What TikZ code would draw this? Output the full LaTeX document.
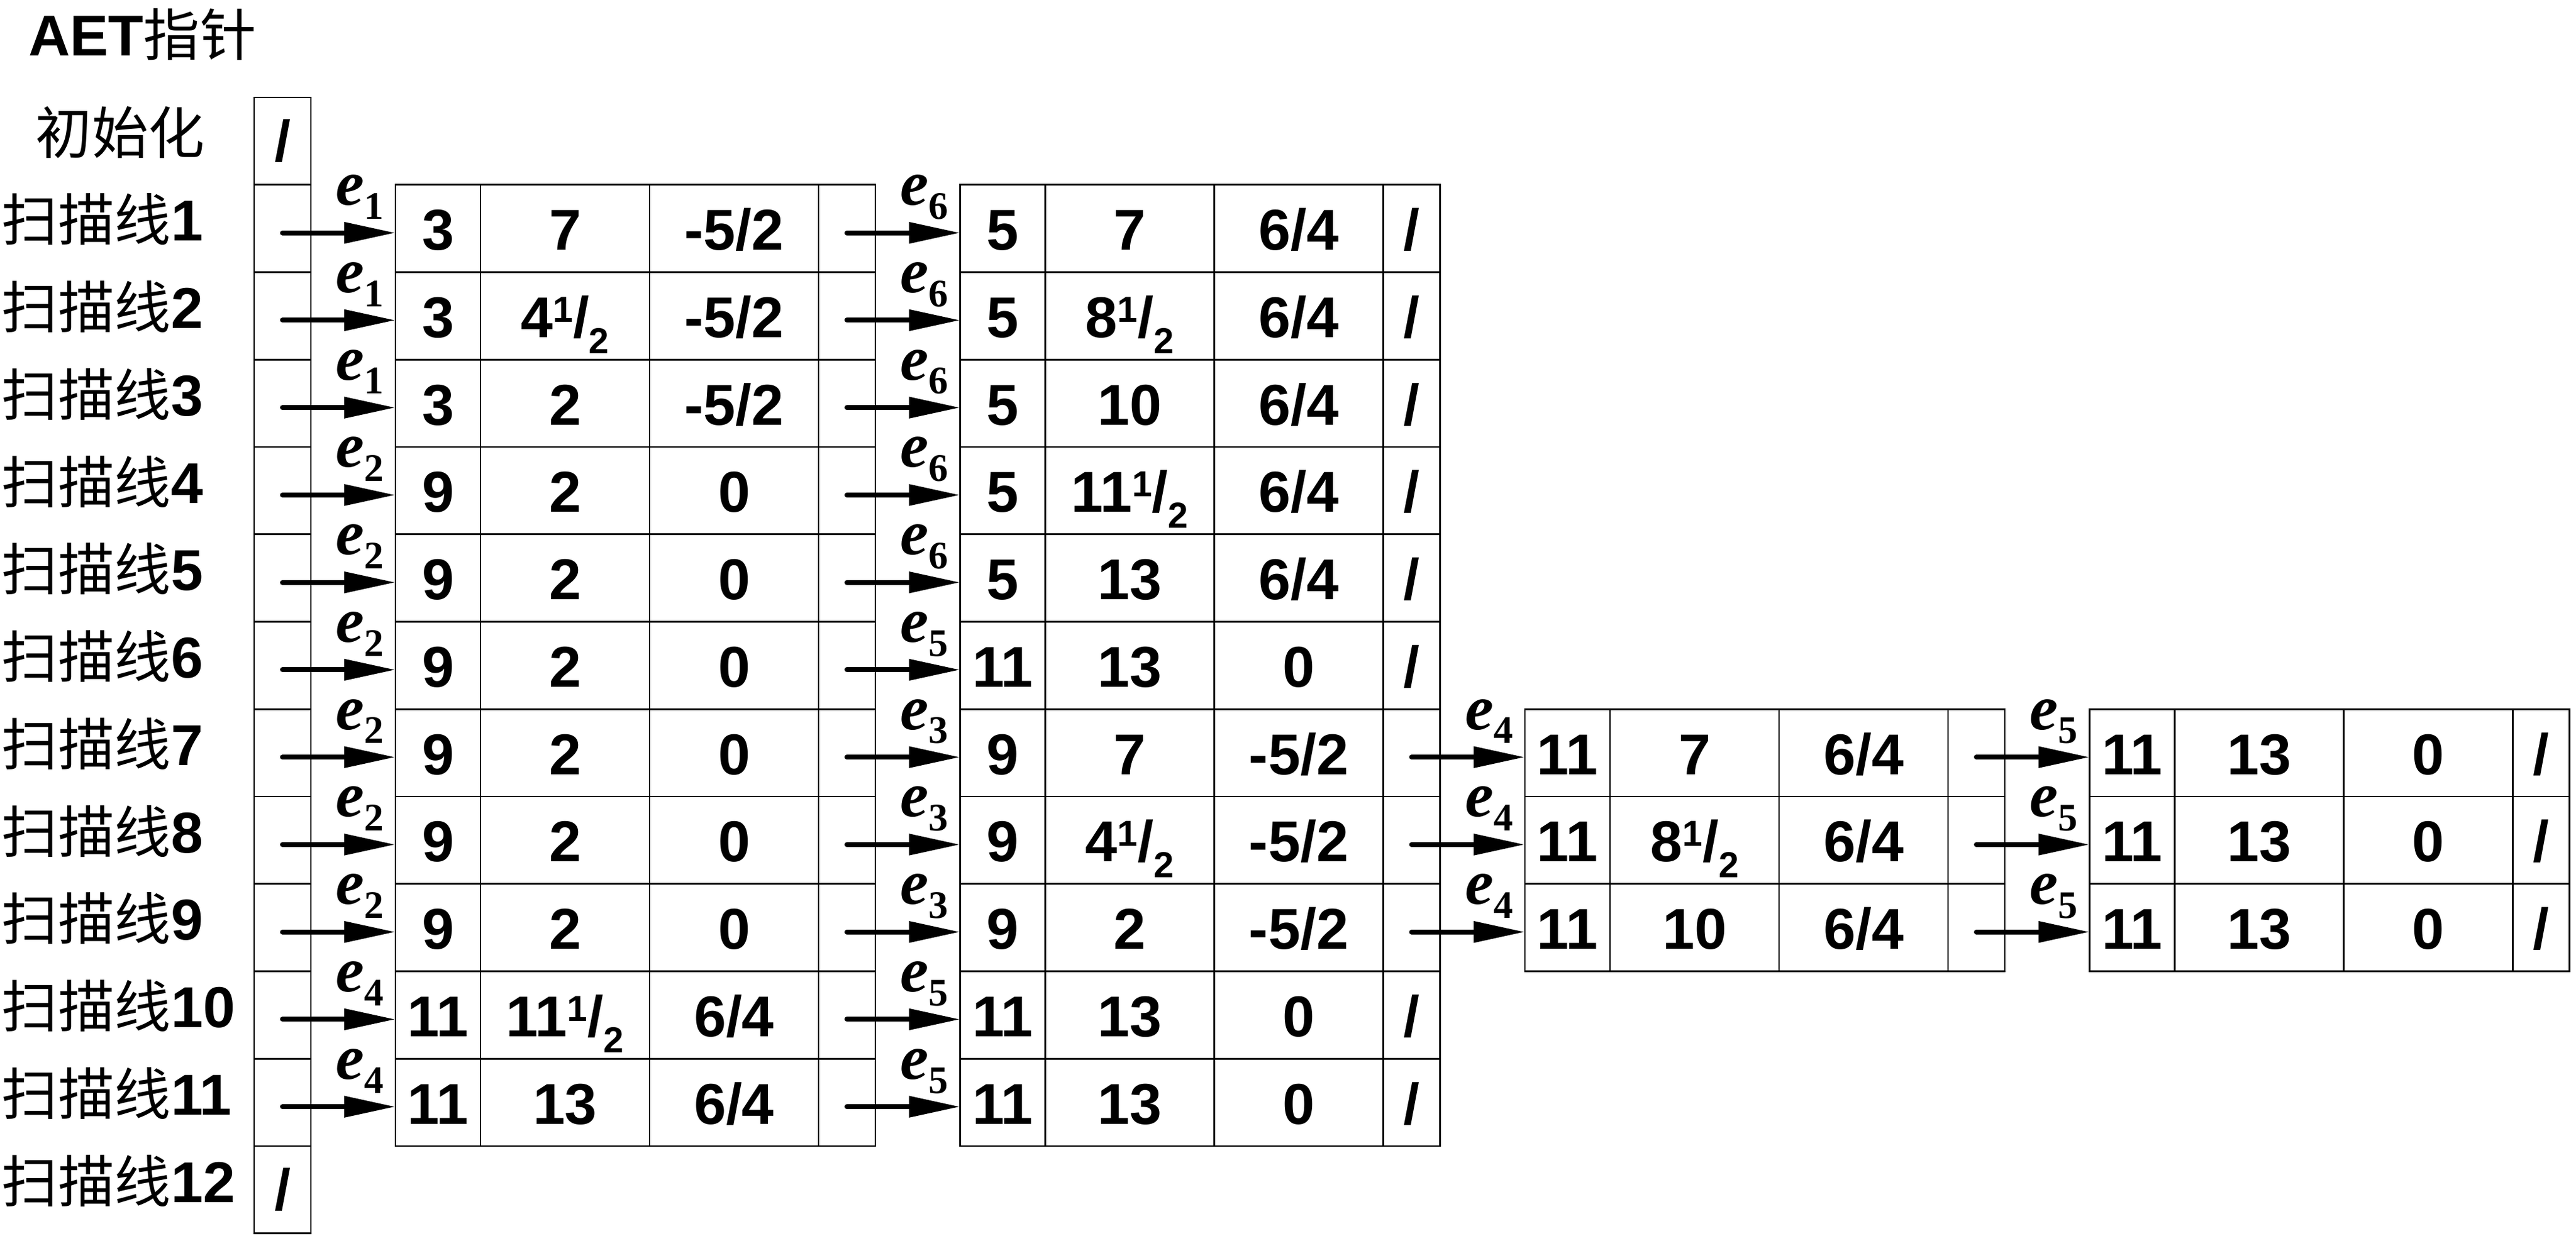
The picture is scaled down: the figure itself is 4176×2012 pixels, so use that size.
\documentclass[tikz,border=0pt]{standalone}
\usepackage{fontspec}
\setmainfont{Liberation Sans}
\newfontfamily\cjk{Noto Sans CJK SC}
\newfontfamily\tnr{Liberation Serif}
\usetikzlibrary{arrows.meta}
\newcommand\dg{\fontsize{26.6}{30}\selectfont\bfseries}
\newcommand\cjksz{\fontsize{26}{30}\selectfont\mdseries\cjk}
\newcommand\mfr[1]{#1\raisebox{7.1pt}{\fontsize{16.7}{18}\selectfont 1}/\raisebox{-7.4pt}{\fontsize{16.7}{18}\selectfont 2}}
\newcommand\elab[1]{{\fontsize{29.5}{30}\selectfont\tnr\bfseries\itshape e}\raisebox{-6.5pt}{\fontsize{18}{20}\selectfont\tnr\bfseries #1}}
\tikzset{
  cell/.style={draw=black, line width=0.8pt, inner sep=0pt, outer sep=0pt,
    minimum height=14.175mm, text height=19.9pt, text depth=0pt, font=\dg, anchor=north west},
  wa/.style={cell, minimum width=13.8mm},
  wb/.style={cell, minimum width=27.4mm},
  wd/.style={cell, minimum width=9.2mm},
  arr/.style={line width=2.3pt, line cap=round, -{Triangle[length=23.6pt,width=9.4pt]}},
  lab/.style={inner sep=0pt, outer sep=0pt, anchor=base west},
}
% #1 table index, #2 row, #3..#6 contents
\newcommand\trow[6]{%
  \pgfmathsetmacro\tx{641+915.5*#1}%
  \pgfmathsetmacro\ty{158+141.75*#2}%
  \node[wa] (T#1R#2A) at (\tx,\ty) {#3};
  \node[wb] (T#1R#2B) at (T#1R#2A.north east) {#4};
  \node[wb] (T#1R#2C) at (T#1R#2B.north east) {#5};
  \node[wd] (T#1R#2D) at (T#1R#2C.north east) {#6};
}
% #1 from node, #2 to node, #3 subscript
\newcommand\lnk[3]{%
  \draw[arr] ([yshift=-2pt]#1.center) -- ([yshift=-2pt]#2.west);
  \node[lab] (#2L) at ([xshift=-9.7mm,yshift=3.8mm]#2.west) {\elab{#3}};
}
\begin{document}
\begin{tikzpicture}[x=0.1mm,y=-0.1mm]
\useasboundingbox (0,0) rectangle (4176,2012);
% title and labels
\node[lab] (title) at (46,90) {{\dg AET}{\cjksz 指针}};
\node[lab] (init) at (58,249) {\cjksz 初始化};
\foreach \i in {1,...,12}{
  \node[lab] (S\i) at (3,{249+141.75*\i}) {{\cjksz 扫描线}{\dg \i}};
}
% pointer column
\foreach \i in {0,...,12}{
  \node[wd] (P\i) at (412,{158+141.75*\i}) {};
}
\node[font=\dg, inner sep=0pt] (P0s) at (P0) {/};
\node[font=\dg, inner sep=0pt] (P12s) at (P12) {/};
% table 1
\trow{0}{1}{3}{7}{-5/2}{}
\trow{0}{2}{3}{\mfr{4}}{-5/2}{}
\trow{0}{3}{3}{2}{-5/2}{}
\trow{0}{4}{9}{2}{0}{}
\trow{0}{5}{9}{2}{0}{}
\trow{0}{6}{9}{2}{0}{}
\trow{0}{7}{9}{2}{0}{}
\trow{0}{8}{9}{2}{0}{}
\trow{0}{9}{9}{2}{0}{}
\trow{0}{10}{11}{\mfr{11}}{6/4}{}
\trow{0}{11}{11}{13}{6/4}{}
% table 2
\trow{1}{1}{5}{7}{6/4}{/}
\trow{1}{2}{5}{\mfr{8}}{6/4}{/}
\trow{1}{3}{5}{10}{6/4}{/}
\trow{1}{4}{5}{\mfr{11}}{6/4}{/}
\trow{1}{5}{5}{13}{6/4}{/}
\trow{1}{6}{11}{13}{0}{/}
\trow{1}{7}{9}{7}{-5/2}{}
\trow{1}{8}{9}{\mfr{4}}{-5/2}{}
\trow{1}{9}{9}{2}{-5/2}{}
\trow{1}{10}{11}{13}{0}{/}
\trow{1}{11}{11}{13}{0}{/}
% table 3
\trow{2}{7}{11}{7}{6/4}{}
\trow{2}{8}{11}{\mfr{8}}{6/4}{}
\trow{2}{9}{11}{10}{6/4}{}
% table 4
\trow{3}{7}{11}{13}{0}{/}
\trow{3}{8}{11}{13}{0}{/}
\trow{3}{9}{11}{13}{0}{/}
% links pointer -> table 1
\lnk{P1}{T0R1A}{1}
\lnk{P2}{T0R2A}{1}
\lnk{P3}{T0R3A}{1}
\lnk{P4}{T0R4A}{2}
\lnk{P5}{T0R5A}{2}
\lnk{P6}{T0R6A}{2}
\lnk{P7}{T0R7A}{2}
\lnk{P8}{T0R8A}{2}
\lnk{P9}{T0R9A}{2}
\lnk{P10}{T0R10A}{4}
\lnk{P11}{T0R11A}{4}
% table 1 -> table 2
\lnk{T0R1D}{T1R1A}{6}
\lnk{T0R2D}{T1R2A}{6}
\lnk{T0R3D}{T1R3A}{6}
\lnk{T0R4D}{T1R4A}{6}
\lnk{T0R5D}{T1R5A}{6}
\lnk{T0R6D}{T1R6A}{5}
\lnk{T0R7D}{T1R7A}{3}
\lnk{T0R8D}{T1R8A}{3}
\lnk{T0R9D}{T1R9A}{3}
\lnk{T0R10D}{T1R10A}{5}
\lnk{T0R11D}{T1R11A}{5}
% table 2 -> table 3
\lnk{T1R7D}{T2R7A}{4}
\lnk{T1R8D}{T2R8A}{4}
\lnk{T1R9D}{T2R9A}{4}
% table 3 -> table 4
\lnk{T2R7D}{T3R7A}{5}
\lnk{T2R8D}{T3R8A}{5}
\lnk{T2R9D}{T3R9A}{5}
\end{tikzpicture}
\end{document}
